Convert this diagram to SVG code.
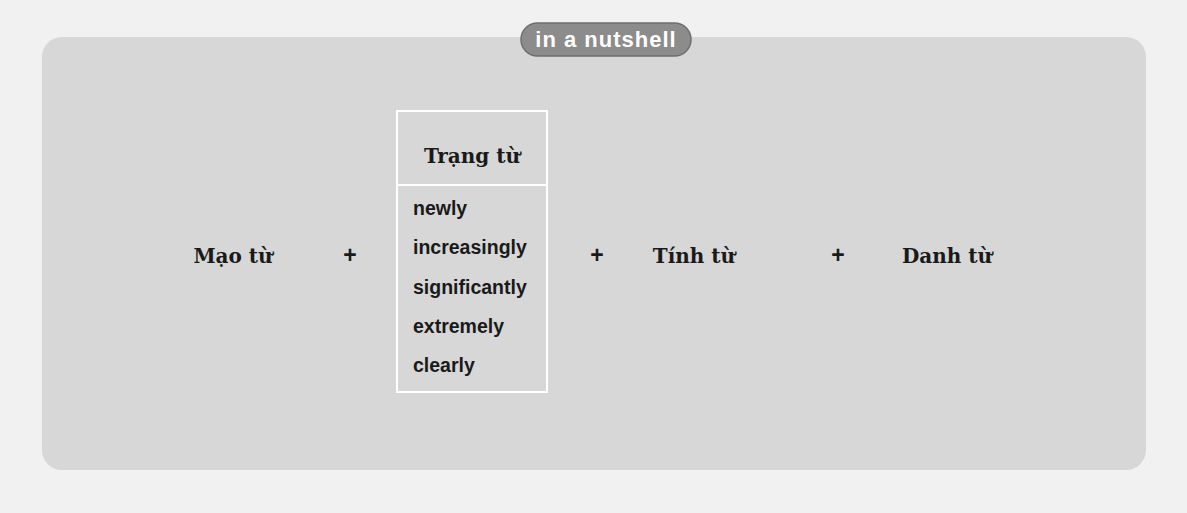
<svg xmlns="http://www.w3.org/2000/svg" width="1187" height="513" viewBox="0 0 1187 513">
<style>
.serif{font-family:"DejaVu Serif","Liberation Serif",serif;font-weight:bold;font-size:20px;fill:#1a1a1a}
.sans{font-family:"Liberation Sans","Noto Sans",Arial,sans-serif;font-weight:bold;font-size:19.5px;fill:#1a1a1a}
.plus{font-family:"Liberation Sans",Arial,sans-serif;font-weight:bold;font-size:23px;fill:#1a1a1a}
</style>
<rect x="0" y="0" width="1187" height="513" fill="#f1f1f1"/>
<g id="panel">
<rect x="42" y="37" width="1104" height="433" rx="20" ry="20" fill="#d7d7d7"/>
</g>
<g id="title">
<rect x="521" y="23" width="170" height="33" rx="16.5" ry="16.5" fill="#8c8c8c" stroke="#6e6e6e" stroke-width="1.5"/>
<text x="606" y="47" text-anchor="middle" font-family="'Liberation Sans',Arial,sans-serif" font-size="22" font-weight="bold" letter-spacing="1" fill="#ffffff">in a nutshell</text>
</g>
<g id="mao-tu">
<text class="serif" x="233" y="263" text-anchor="middle">Mạo từ</text>
</g>
<g id="trang-tu">
<rect x="397" y="111" width="150" height="281" fill="none" stroke="#ffffff" stroke-width="2"/>
<line x1="397" y1="185" x2="547" y2="185" stroke="#ffffff" stroke-width="2"/>
<text class="serif" x="472" y="163" text-anchor="middle">Trạng từ</text>
<text class="sans" x="413" y="215">newly</text>
<text class="sans" x="413" y="254">increasingly</text>
<text class="sans" x="413" y="294">significantly</text>
<text class="sans" x="413" y="333">extremely</text>
<text class="sans" x="413" y="372">clearly</text>
</g>
<g id="tinh-tu">
<text class="serif" x="694" y="263" text-anchor="middle">Tính từ</text>
</g>
<g id="danh-tu">
<text class="serif" x="947" y="263" text-anchor="middle">Danh từ</text>
</g>
<g id="connectors">
<text class="plus" x="350" y="263" text-anchor="middle">+</text>
<text class="plus" x="597" y="263" text-anchor="middle">+</text>
<text class="plus" x="838" y="263" text-anchor="middle">+</text>
</g>
</svg>
